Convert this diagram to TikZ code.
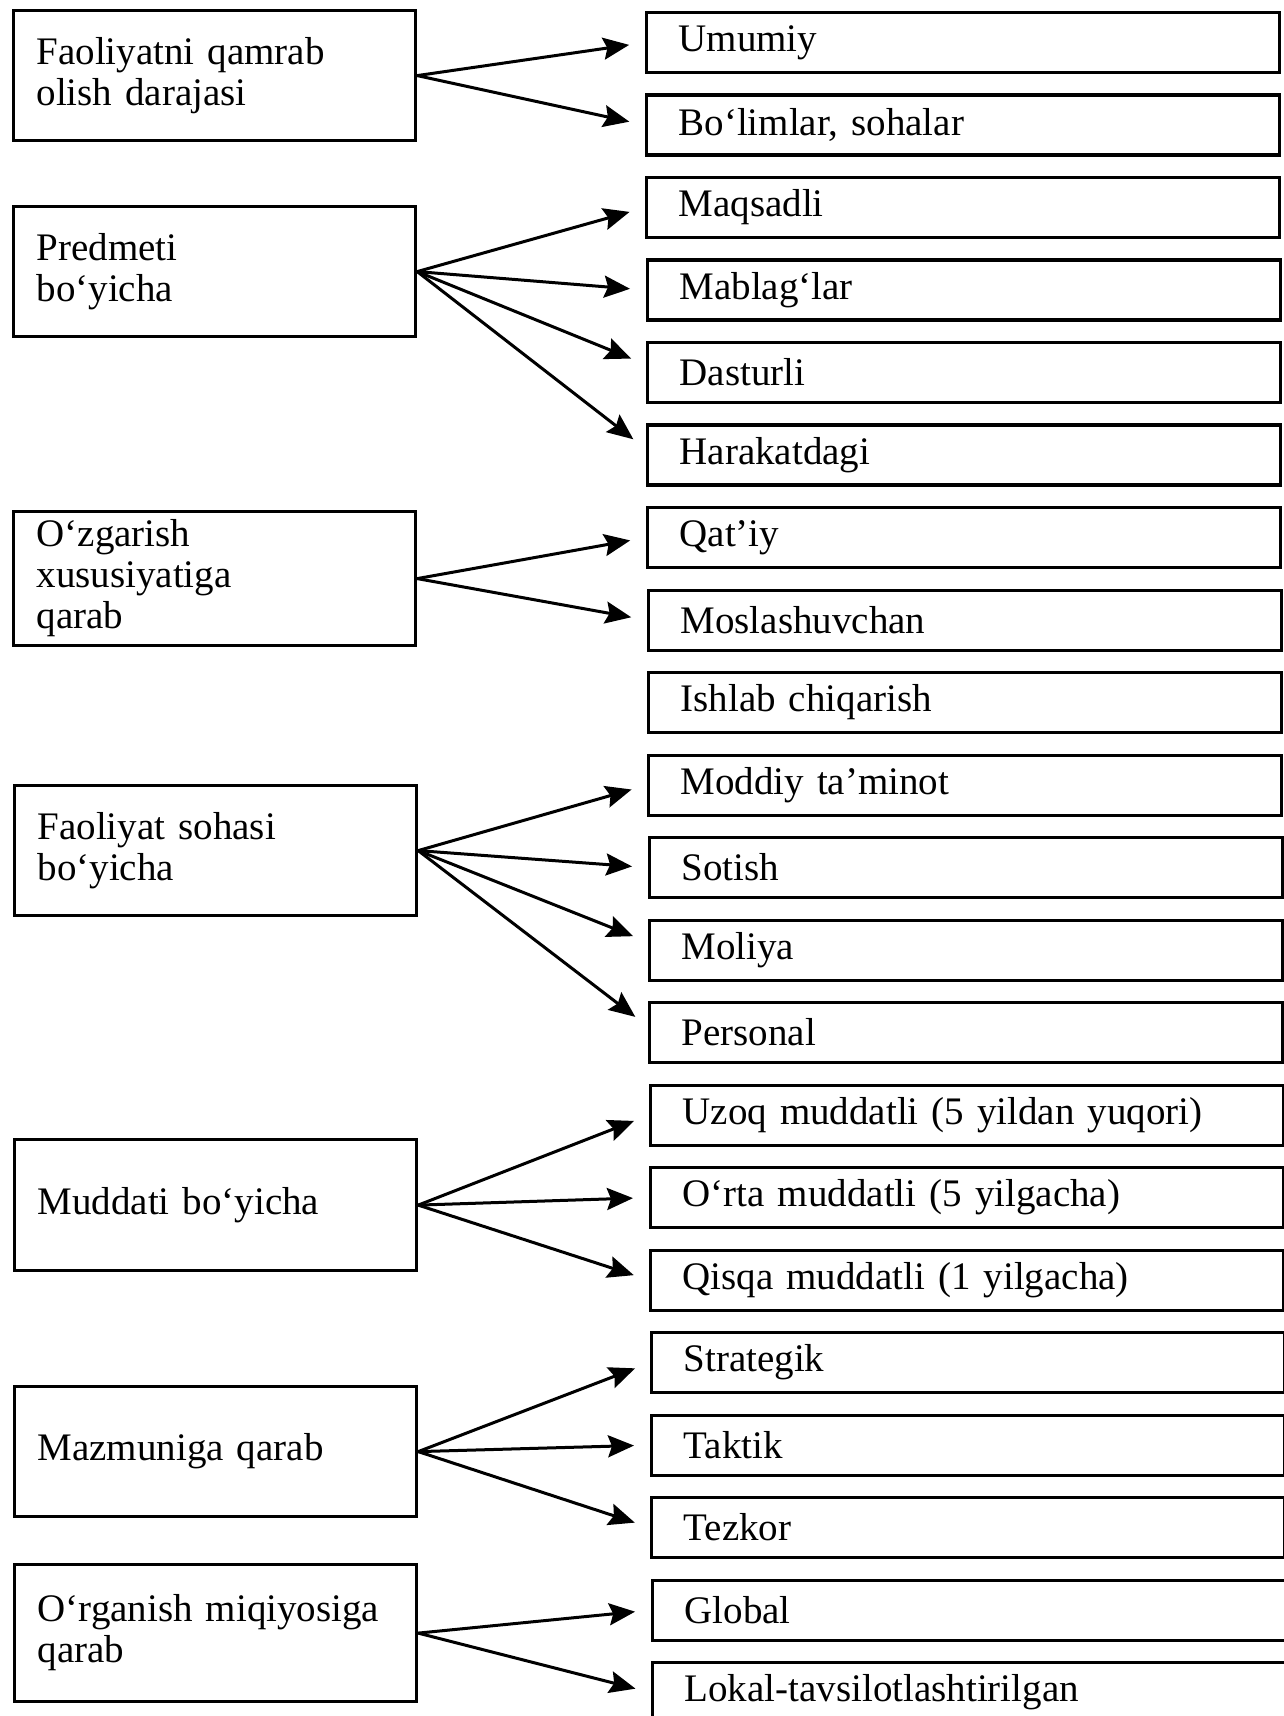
\documentclass[tikz,border=0pt]{standalone}
\usepackage{fontspec}
\setmainfont{Liberation Serif}[WordSpace=1.8]
\usepackage{tikz}
\usetikzlibrary{arrows.meta}

\begin{document}
\begin{tikzpicture}[
    x={(0.5pt,0)}, y={(0,-0.5pt)},
    font=\fontsize{19.5pt}{20.5pt}\selectfont,
    leftbox/.style={draw, line width=1.6pt, anchor=north west,
        minimum width=201pt, minimum height=#1,
        text width=178pt, inner xsep=11.5pt, inner ysep=2pt, align=left},
    rightbox/.style={draw, line width=1.6pt, anchor=north west,
        minimum width=316.5pt, minimum height=30pt,
        text width=284.5pt, inner xsep=16pt, inner ysep=2pt, align=left},
    arr/.style={-{Stealth[length=13pt, width=11pt, inset=2pt]}, line width=1.5pt,
        shorten >=8pt},
]
\useasboundingbox (0,0) rectangle (1283,1716);

%% ========== CRITERIA (left) ==========
\node[leftbox=65pt] (qamrov) at (12, 9) {Faoliyatni qamrab\\olish darajasi};
\node[leftbox=65pt] (predmet) at (12, 205) {Predmeti\\bo‘yicha};
\node[leftbox=67pt] (ozgarish) at (12, 510) {O‘zgarish\\xususiyatiga\\qarab};
\node[leftbox=65pt] (soha) at (13, 784) {Faoliyat sohasi\\bo‘yicha};
\node[leftbox=65.5pt] (muddat) at (13, 1138) {Muddati bo‘yicha};
\node[leftbox=65pt] (mazmun) at (13, 1385) {Mazmuniga qarab};
\node[leftbox=68.5pt] (miqyos) at (13, 1563) {O‘rganish miqiyosiga\\qarab};

%% ========== TYPES (right) ==========
\node[rightbox] (umumiy) at (645, 11) {Umumiy};
\node[rightbox] (bolim) at (645, 93.5) {Bo‘limlar, sohalar};
\node[rightbox] (maqsad) at (645, 176) {Maqsadli};
\node[rightbox] (mablag) at (646, 258.5) {Mablag‘lar};
\node[rightbox] (dastur) at (646, 341) {Dasturli};
\node[rightbox] (harakat) at (646, 423.5) {Harakatdagi};
\node[rightbox] (qatiy) at (646, 506) {Qat’iy};
\node[rightbox] (moslash) at (647, 588.5) {Moslashuvchan};
\node[rightbox] (ishlab) at (647, 671) {Ishlab chiqarish};
\node[rightbox] (moddiy) at (647, 753.5) {Moddiy ta’minot};
\node[rightbox] (sotish) at (648, 836) {Sotish};
\node[rightbox] (moliya) at (648, 918.5) {Moliya};
\node[rightbox] (personal) at (648, 1001) {Personal};
\node[rightbox] (uzoq) at (649, 1083.5) {Uzoq muddatli (5 yildan yuqori)};
\node[rightbox] (orta) at (649, 1166) {O‘rta muddatli (5 yilgacha)};
\node[rightbox] (qisqa) at (649, 1248.5) {Qisqa muddatli (1 yilgacha)};
\node[rightbox] (strateg) at (650, 1331) {Strategik};
\node[rightbox] (taktik) at (650, 1413.5) {Taktik};
\node[rightbox] (tezkor) at (650, 1496) {Tezkor};
\node[rightbox] (global) at (651, 1578.5) {Global};
\node[rightbox] (lokal) at (651, 1661) {Lokal-tavsilotlashtirilgan};

%% ========== ARROWS ==========
\draw[arr] (qamrov.east) -- (umumiy.west);
\draw[arr] (qamrov.east) -- (bolim.west);

\draw[arr] (predmet.east) -- (maqsad.west);
\draw[arr] (predmet.east) -- (mablag.west);
\draw[arr] (predmet.east) -- ([yshift=4pt]dastur.west);
\draw[arr] (predmet.east) -- ([yshift=3pt]harakat.west);

\draw[arr] (ozgarish.east) -- (qatiy.west);
\draw[arr] (ozgarish.east) -- (moslash.west);

\draw[arr] (soha.east) -- (moddiy.west);
\draw[arr] (soha.east) -- (sotish.west);
\draw[arr] (soha.east) -- ([yshift=4pt]moliya.west);
\draw[arr] (soha.east) -- ([yshift=3pt]personal.west);

\draw[arr] (muddat.east) -- (uzoq.west);
\draw[arr] (muddat.east) -- (orta.west);
\draw[arr] (muddat.east) -- (qisqa.west);

\draw[arr] (mazmun.east) -- (strateg.west);
\draw[arr] (mazmun.east) -- (taktik.west);
\draw[arr] (mazmun.east) -- (tezkor.west);

\draw[arr] (miqyos.east) -- (global.west);
\draw[arr] (miqyos.east) -- (lokal.west);
\end{tikzpicture}
\end{document}
